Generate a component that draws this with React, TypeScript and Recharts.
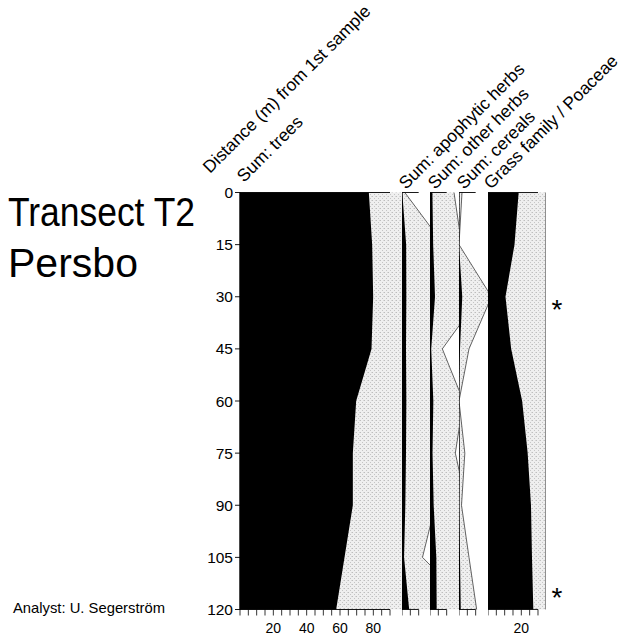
import React from 'react';
import { ComposedChart, Area, XAxis, YAxis, ReferenceLine } from 'recharts';

// ---------- data ----------
const depths = [0, 15, 30, 45, 60, 75, 90, 105, 120]; // distance (m) from 1st sample
const trees = [77.3, 79.3, 79.9, 78.9, 69.7, 67.7, 67.7, 62.7, 57.7];
const apophyticHerbs = [0.17, 2.5, 2.6, 2.4, 2.6, 2.4, 2.0, 1.23, 4.3];
const otherHerbs = [1.44, 1.9, 3.0, 0.74, 2.0, 1.52, 2.2, 3.8, 4.0];
const cereals = [0.18, 0.0, 1.95, 0.6, 0.0, 0.35, 0.15, 0.6, 1.06];
const grass = [18.4, 15.9, 10.5, 13.9, 20.5, 23.8, 25.8, 26.4, 27.2];

const distanceTicks = [0, 15, 30, 45, 60, 75, 90, 105, 120];
const treeTickLabels = [20, 40, 60, 80];
const grassTickLabels = [20];
const EXAGGERATION = 10;

const titleText = 'Transect T2';
const siteText = 'Persbo';
const analystText = 'Analyst: U. Segerström';
const distanceTitle = 'Distance (m) from 1st sample';

// ---------- layout ----------
const FONT = '"Liberation Sans", Arial, Helvetica, sans-serif';
const PX_PER_UNIT = 1.6667;
const PLOT_TOP = 192.5;
const CHART_H = 637;
const BOTTOM_MARGIN = 2.5;
const XAXIS_H = 25;

type PanelDef = {
  title: string;
  values: number[];
  left: number;
  width: number;
  axisMax: number;
  labels: number[];
  rightBorder?: boolean;
  titleX: number;
  titleY: number;
};

const panels: PanelDef[] = [
  { title: 'Sum: trees', values: trees, left: 239.5, width: 162, axisMax: 90, labels: treeTickLabels, titleX: 244, titleY: 183 },
  { title: 'Sum: apophytic herbs', values: apophyticHerbs, left: 401.5, width: 28.8, axisMax: 10, labels: [], titleX: 406, titleY: 190 },
  { title: 'Sum: other herbs', values: otherHerbs, left: 430.3, width: 29, axisMax: 10, labels: [], titleX: 435, titleY: 190 },
  { title: 'Sum: cereals', values: cereals, left: 459.3, width: 29, axisMax: 10, labels: [], titleX: 464, titleY: 190 },
  { title: 'Grass family / Poaceae', values: grass, left: 488.3, width: 57.7, axisMax: 30, labels: grassTickLabels, rightBorder: true, titleX: 491, titleY: 190 },
];

function Panel({ def, idx, withYAxis }: { def: PanelDef; idx: number; withYAxis: boolean }) {
  const yW = withYAxis ? 44 : 0;
  const domainMax = def.width / PX_PER_UNIT;
  const rows = depths.map((d, i) => ({ depth: d, v: def.values[i], ex: def.values[i] * EXAGGERATION }));
  const ticks: number[] = [];
  for (let t = 0; t <= def.axisMax; t += 5) ticks.push(t);
  const pid = `stipple${idx}`;
  return (
    <div style={{ position: 'absolute', left: def.left - yW, top: 0 }}>
      <ComposedChart
        layout="vertical"
        width={def.width + yW}
        height={CHART_H}
        data={rows}
        margin={{ top: PLOT_TOP, right: 0, bottom: BOTTOM_MARGIN, left: 0 }}
      >
        <defs>
          <pattern id={pid} width="4" height="4" patternUnits="userSpaceOnUse">
            <rect width="4" height="4" fill="#efefef" />
            <rect x="0" y="0" width="1" height="1" fill="#bdbdbd" />
            <rect x="2" y="2" width="1" height="1" fill="#c4c4c4" />
            <rect x="3" y="0" width="1" height="1" fill="#d8d8d8" />
          </pattern>
        </defs>
        <XAxis
          xAxisId="b"
          type="number"
          orientation="bottom"
          domain={[0, domainMax]}
          allowDataOverflow
          ticks={ticks}
          interval={0}
          axisLine={false}
          tickSize={6}
          tickMargin={8}
          height={XAXIS_H}
          stroke="#000"
          tickLine={{ stroke: '#000', strokeWidth: 0.8 }}
          tick={{ fontSize: 14, fill: '#000', fontFamily: FONT }}
          tickFormatter={(v: number) => (def.labels.includes(v) ? String(v) : '')}
        />
        <XAxis
          xAxisId="t"
          type="number"
          orientation="top"
          domain={[0, domainMax]}
          allowDataOverflow
          ticks={ticks}
          interval={0}
          axisLine={false}
          tickSize={3}
          height={0}
          tickLine={{ stroke: '#000', strokeWidth: 0.8 }}
          tickFormatter={() => ''}
        />
        <YAxis
          type="number"
          dataKey="depth"
          domain={[0, 120]}
          ticks={distanceTicks}
          interval={0}
          hide={!withYAxis}
          width={yW}
          tickSize={5}
          tickMargin={2}
          axisLine={{ stroke: '#000', strokeWidth: 0.9 }}
          tickLine={{ stroke: '#000', strokeWidth: 0.9 }}
          tick={{ fontSize: 15.5, fill: '#000', fontFamily: FONT }}
        />
        <Area
          xAxisId="b"
          dataKey="ex"
          type="linear"
          fill={`url(#${pid})`}
          fillOpacity={1}
          stroke="#222"
          strokeWidth={0.7}
          isAnimationActive={false}
          dot={false}
          activeDot={false}
        />
        <Area
          xAxisId="b"
          dataKey="v"
          type="linear"
          fill="#000"
          fillOpacity={1}
          stroke="none"
          isAnimationActive={false}
          dot={false}
          activeDot={false}
        />
        <ReferenceLine xAxisId="b" x={0} stroke="#000" strokeWidth={1} />
        <ReferenceLine xAxisId="b" segment={[{ x: 0, y: 0 }, { x: def.axisMax, y: 0 }]} stroke="#000" strokeWidth={0.9} />
        <ReferenceLine xAxisId="b" segment={[{ x: 0, y: 120 }, { x: def.axisMax, y: 120 }]} stroke="#000" strokeWidth={0.9} />
        {def.rightBorder && <ReferenceLine xAxisId="b" x={domainMax} stroke="#777" strokeWidth={1} />}
      </ComposedChart>
    </div>
  );
}

export default function App() {
  return (
    <div style={{ position: 'absolute', left: 0, top: 0, width: 623, height: 637, background: '#fff', overflow: 'hidden' }}>
      {panels.map((p, i) => (
        <Panel key={p.title} def={p} idx={i} withYAxis={i === 0} />
      ))}
      <svg
        width={623}
        height={637}
        style={{ position: 'absolute', left: 0, top: 0, pointerEvents: 'none' }}
        fontFamily={FONT}
      >
        <text x={8} y={226} fontSize={40} textLength={187} lengthAdjust="spacingAndGlyphs" fill="#000">{titleText}</text>
        <text x={8} y={277} fontSize={40} textLength={130} lengthAdjust="spacingAndGlyphs" fill="#000">{siteText}</text>
        <text x={13} y={613} fontSize={14.5} textLength={152} lengthAdjust="spacingAndGlyphs" fill="#000">{analystText}</text>
        <text x={210} y={174} fontSize={17.5} transform="rotate(-45 210 174)" fill="#000">{distanceTitle}</text>
        {panels.map((p) => (
          <text key={p.title} x={p.titleX} y={p.titleY} fontSize={17.5} transform={`rotate(-45 ${p.titleX} ${p.titleY})`} fill="#000">
            {p.title}
          </text>
        ))}
        <text x={557} y={319} fontSize={28} textAnchor="middle" fill="#000">*</text>
        <text x={557} y={607} fontSize={28} textAnchor="middle" fill="#000">*</text>
      </svg>
    </div>
  );
}
